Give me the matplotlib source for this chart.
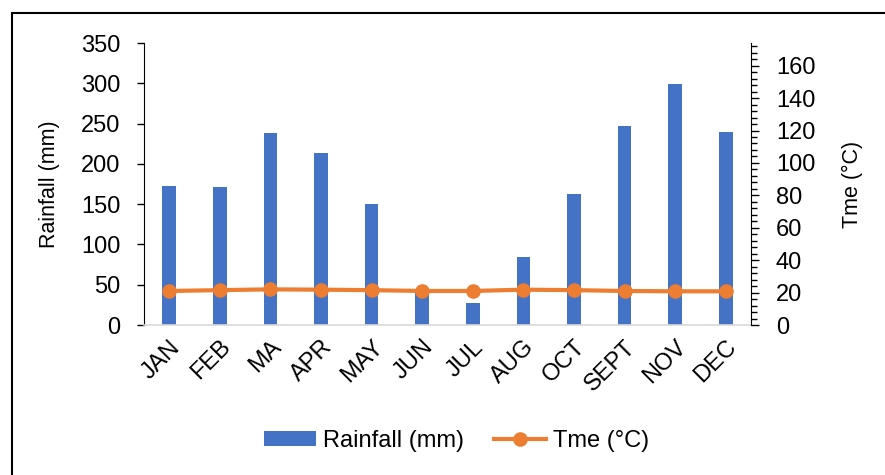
#Import Library
import numpy as np
import matplotlib.pyplot as plt
import matplotlib.patches as patches
from matplotlib.ticker import MultipleLocator

plt.rcParams['font.family'] = ['Liberation Sans', 'DejaVu Sans']

#Data
bulan = ["JAN", "FEB", "MA", "APR", "MAY", "JUN", "JUL", "AUG", "OCT", "SEPT", "NOV", "DEC"]
rainfall = [172, 171, 238, 214, 150, 40, 27, 84, 163, 247, 299, 239]
suhu = [21.0, 21.5, 22.0, 21.8, 21.5, 21.0, 21.0, 21.8, 21.5, 21.0, 20.8, 20.8]

biru = "#4472C4"
oranye = "#ED7D31"

fig = plt.figure(figsize=(8.85, 4.75), dpi=100)
ax = fig.add_axes([144/885, 1 - 325/475, (751 - 144)/885, (325 - 43)/475])
x = np.arange(len(bulan))

#Bar rainfall
bars = ax.bar(x, rainfall, width=0.27, color=biru, label="Rainfall (mm)", zorder=2)
ax.set_xlim(-0.5, len(bulan) - 0.5)
ax.set_ylim(0, 350)
ax.yaxis.set_major_locator(MultipleLocator(50))
ax.set_ylabel("Rainfall (mm)", fontsize=15.5, labelpad=15)
ax.set_xticks(x)
ax.set_xticklabels(bulan, rotation=45, ha="right", rotation_mode="anchor", fontsize=17)
ax.tick_params(axis="x", length=0, pad=8)
ax.tick_params(axis="y", labelsize=17, length=5, width=1, pad=12)
ax.spines["top"].set_visible(False)
ax.spines["right"].set_visible(False)
ax.spines["bottom"].set_color("#D9D9D9")
ax.spines["bottom"].set_linewidth(1.2)

#Garis suhu pada sumbu kanan
ax2 = ax.twinx()
line, = ax2.plot(x, suhu, color=oranye, linewidth=3, marker="o", markersize=9.5,
                 label="Tme (°C)", zorder=3)
ax2.set_ylim(0, 174)
ax2.yaxis.set_major_locator(MultipleLocator(20))
ax2.yaxis.set_minor_locator(MultipleLocator(4))
ax2.set_ylabel("Tme (°C)", fontsize=15.5, labelpad=19)
ax2.tick_params(axis="y", which="major", labelsize=17, length=6, width=1, pad=12)
ax2.tick_params(axis="y", which="minor", length=4, width=1)
for s in ["top", "left", "bottom"]:
    ax2.spines[s].set_visible(False)

#Legend di bawah
fig.legend([bars, line], ["Rainfall (mm)", "Tme (°C)"], loc="center",
           bbox_to_anchor=(0.516, 0.072), ncol=2, frameon=False, fontsize=17,
           handlelength=2.2, handleheight=0.6, columnspacing=1.3, handletextpad=0.3)

#Bingkai luar
frame = patches.Rectangle((12/885, -0.1), 1.2, 1.1 - 13/475, transform=fig.transFigure,
                          fill=False, edgecolor="black", linewidth=1.5, clip_on=False)
fig.patches.append(frame)

fig.savefig("out.png", dpi=100)
